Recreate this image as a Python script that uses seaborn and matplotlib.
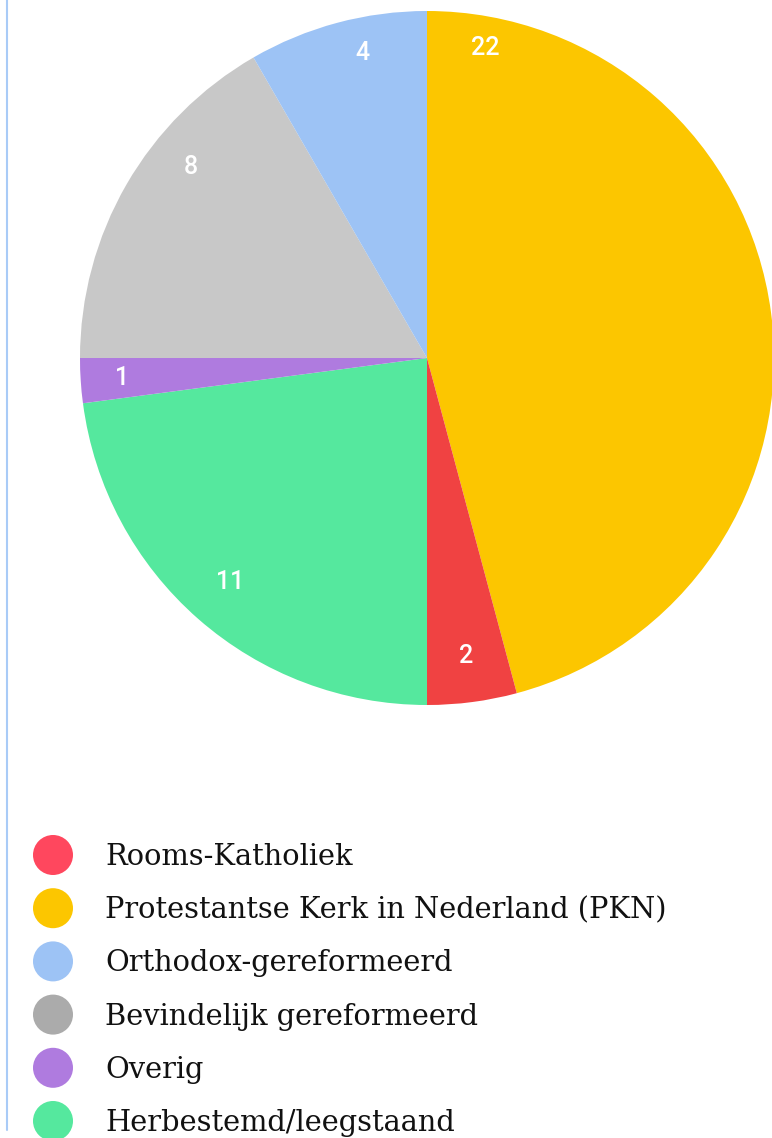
import numpy as np
import matplotlib
matplotlib.use("Agg")
import matplotlib.pyplot as plt
import seaborn as sns
import pandas as pd

# data (order clockwise from the top)
slice_names = ["Protestantse Kerk in Nederland (PKN)", "Rooms-Katholiek", "Herbestemd/leegstaand",
               "Overig", "Bevindelijk gereformeerd", "Orthodox-gereformeerd"]
slice_values = [22, 2, 11, 1, 8, 4]
slice_colors = ["#FCC600", "#F04242", "#55E89E", "#AF7BDF", "#C8C8C8", "#9DC3F5"]

legend_names = ["Rooms-Katholiek", "Protestantse Kerk in Nederland (PKN)", "Orthodox-gereformeerd",
                "Bevindelijk gereformeerd", "Overig", "Herbestemd/leegstaand"]
legend_colors = ["#FF475E", "#FCC600", "#9DC3F5", "#ABABAB", "#AF7BDF", "#55E89E"]

# where each number sits: fraction along the wedge (0 = start) and distance from centre
label_frac = [0.064, 0.5, 0.5, 0.5, 0.65, 0.6]
label_dist = [0.91, 0.865, 0.86, 0.88, 0.875, 0.90]

sns.set_theme(style="white")
plt.rcParams['font.family'] = ['DejaVu Serif']

W, H = 772, 1138
fig = plt.figure(figsize=(W / 100, H / 100), dpi=100)

# pie axes: centre (427, 358) px, radius 347 px
cx, cy, r = 427, 358, 347
ax = fig.add_axes([(cx - r) / W, (H - cy - r) / H, 2 * r / W, 2 * r / H])
wedges, _ = ax.pie(slice_values, colors=slice_colors, startangle=90, counterclock=False,
                   radius=1, wedgeprops=dict(linewidth=0))
ax.set_xlim(-1, 1)
ax.set_ylim(-1, 1)
ax.set_aspect("equal")
ax.axis("off")

for w, v, f, d in zip(wedges, slice_values, label_frac, label_dist):
    # counterclock=False -> theta2 is where the wedge starts
    ang = np.deg2rad(w.theta2 - f * (w.theta2 - w.theta1))
    ax.text(d * np.cos(ang), d * np.sin(ang), str(v), color="white", ha="center", va="center",
            fontsize=18, family=["Roboto", "Liberation Sans"], fontweight="medium")

# legend drawn on an overlay axes in pixel units
lg = fig.add_axes([0, 0, 1, 1])
lg.patch.set_alpha(0)

leg_df = pd.DataFrame({"name": legend_names,
                       "x": 53,
                       "y": 855 + 53.2 * np.arange(len(legend_names))})
sns.scatterplot(data=leg_df, x="x", y="y", hue="name", palette=legend_colors,
                s=830, linewidth=0, legend=False, ax=lg)
lg.set_xlim(0, W)
lg.set_ylim(H, 0)
lg.axis("off")
for _, row in leg_df.iterrows():
    lg.text(105, row["y"] + 10, row["name"], fontsize=20.8, color="#111111", va="baseline", ha="left")

lg.plot([7, 7], [0, 1130], color="#A9CBF7", lw=1.5)

fig.savefig("out.png", dpi=100)
